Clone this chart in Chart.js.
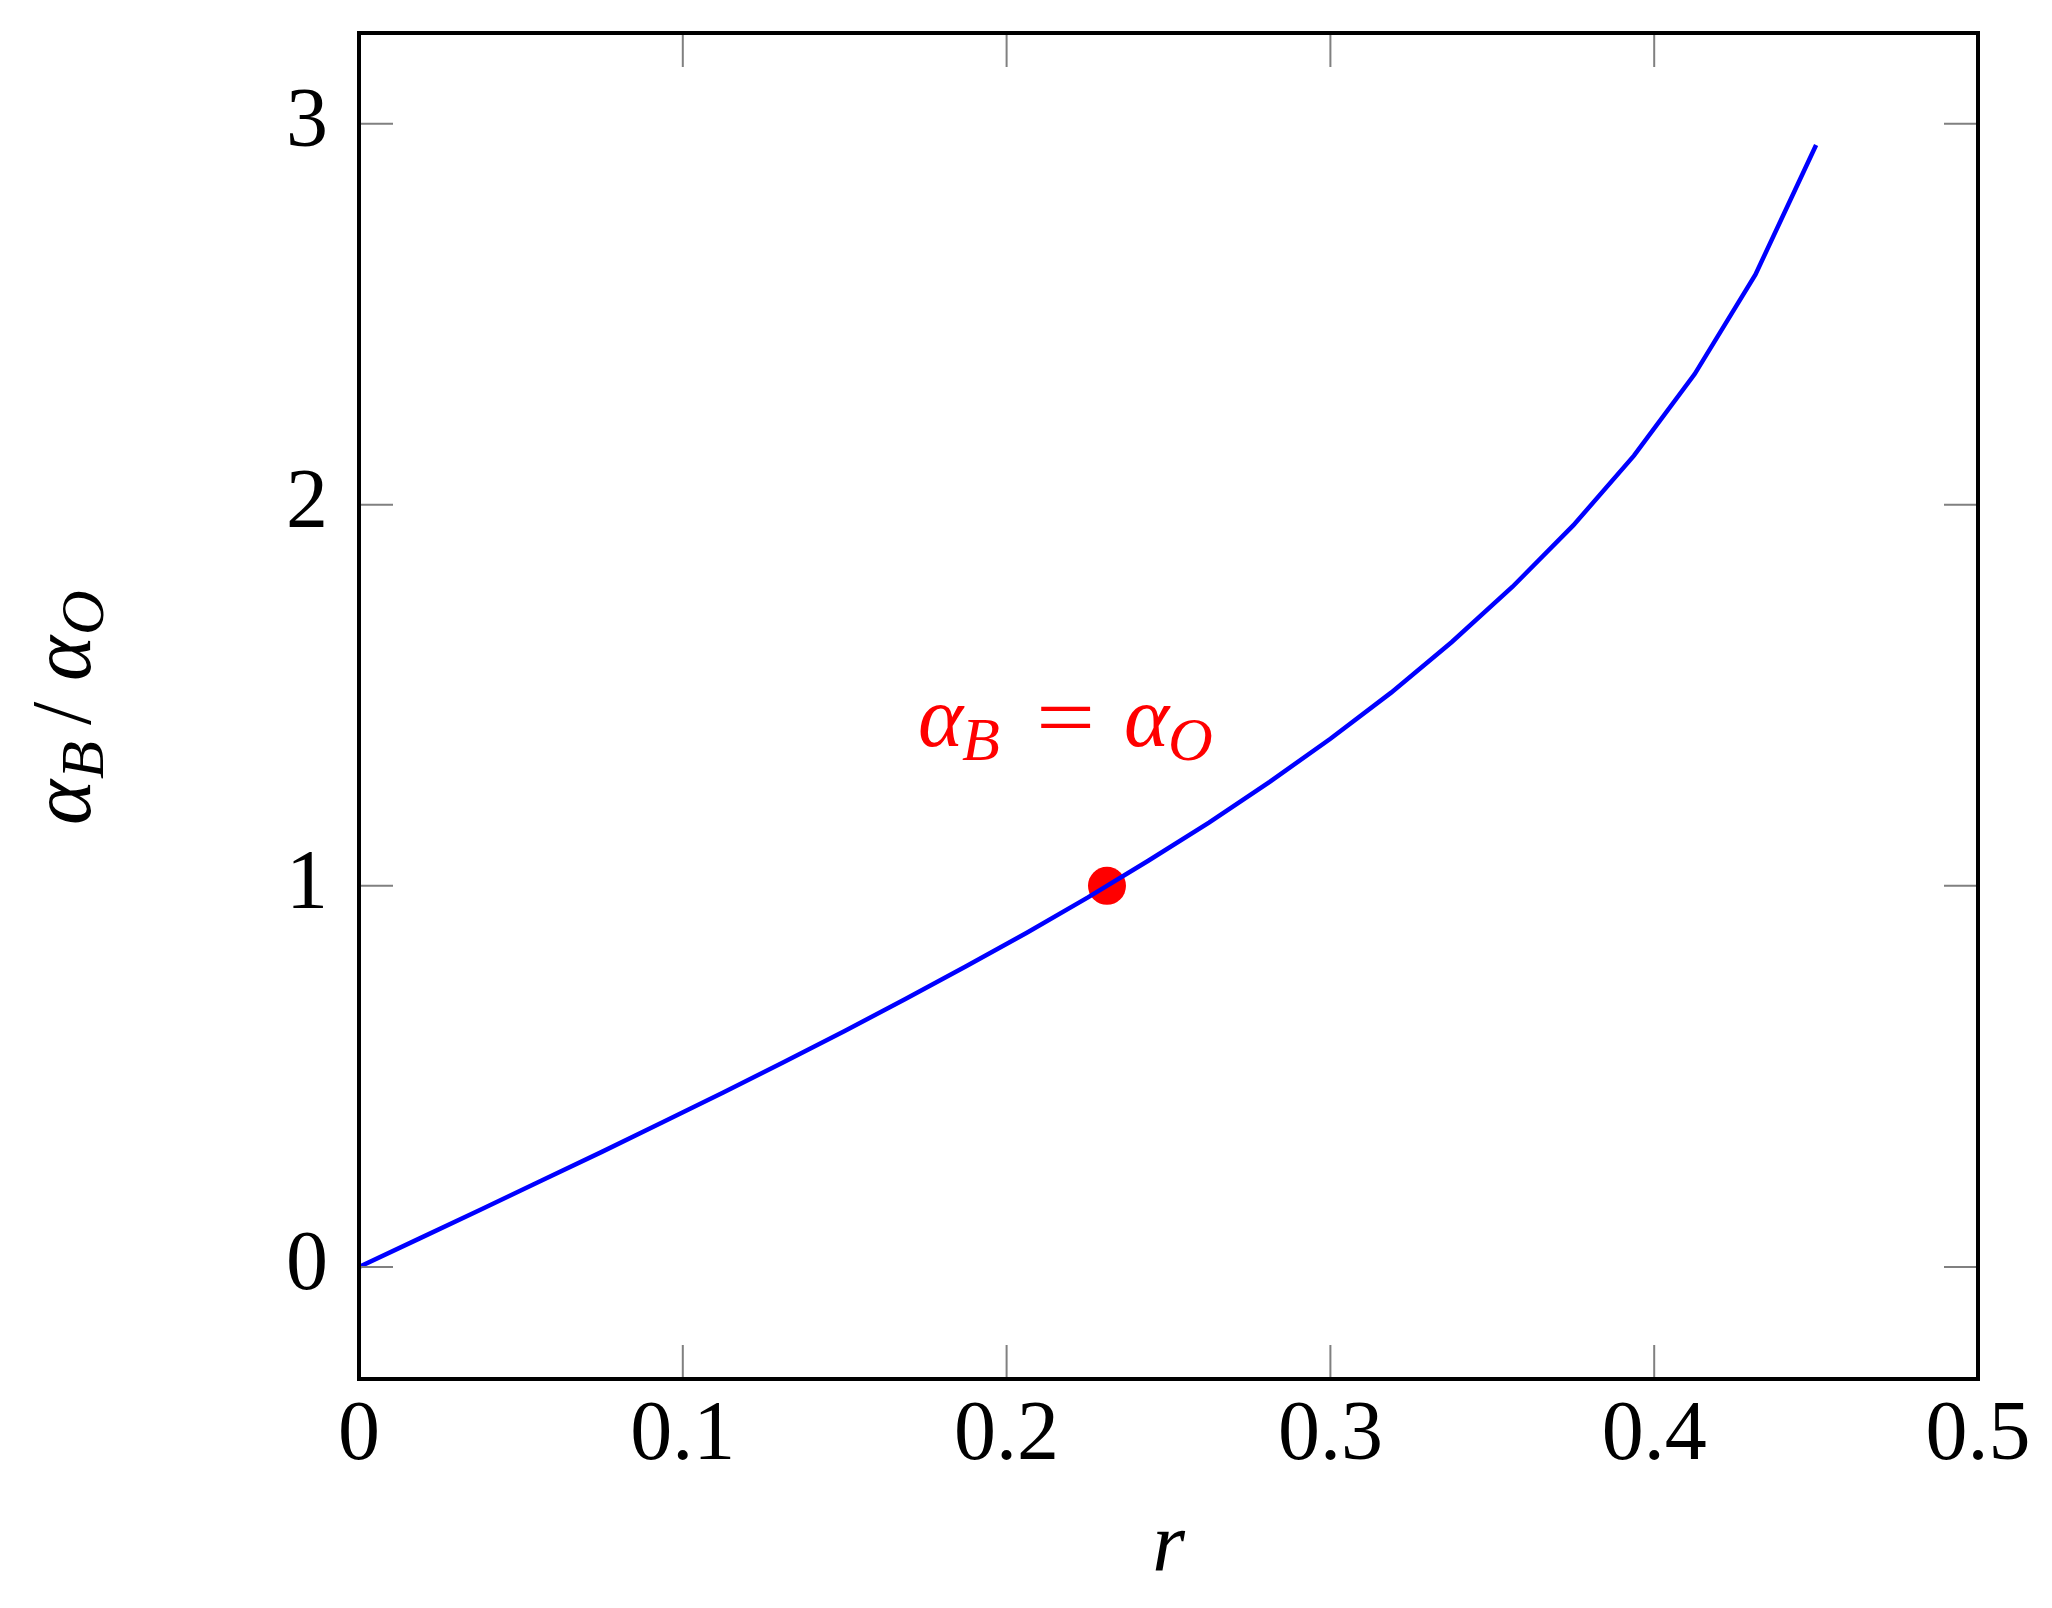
<!DOCTYPE html>
<html>
<head>
<meta charset="utf-8">
<script src="https://cdn.jsdelivr.net/npm/chart.js@4.4.1/dist/chart.umd.min.js"></script>
<style>
  html, body { margin: 0; padding: 0; background: #fff; }
  #wrap { width: 2052px; height: 1608px; position: relative; }
</style>
</head>
<body>
<div id="wrap"><canvas id="chart"></canvas></div>
<script>
// curve samples (r, alpha_B / alpha_O)
const rValues = [0, 0.01875, 0.0375, 0.05625, 0.075, 0.09375, 0.1125, 0.13125, 0.15, 0.16875,
  0.1875, 0.20625, 0.225, 0.24375, 0.2625, 0.28125, 0.3, 0.31875, 0.3375, 0.35625,
  0.375, 0.39375, 0.4125, 0.43125, 0.45];
const ratioValues = [0, 0.075, 0.150, 0.226, 0.302, 0.380, 0.458, 0.538, 0.619, 0.703,
  0.789, 0.877, 0.969, 1.066, 1.166, 1.273, 1.386, 1.507, 1.640, 1.785,
  1.946, 2.129, 2.343, 2.604, 2.944];
// the marked point where alpha_B = alpha_O
const markR = [0.231];
const markRatio = [1];
const xTicks = [0, 0.1, 0.2, 0.3, 0.4, 0.5];
const yTicks = [0, 1, 2, 3];

const FONT = '"Liberation Serif", "DejaVu Serif", serif';

// draws pieces of a small formula (main symbol + lowered subscript) at offsets
function drawMath(ctx, parts, x, y, rot) {
  ctx.save();
  ctx.translate(x, y);
  if (rot) ctx.rotate(rot);
  ctx.textAlign = 'left';
  ctx.textBaseline = 'alphabetic';
  parts.forEach(p => {
    ctx.font = (p.italic ? 'italic ' : '') + p.size + 'px ' + FONT;
    ctx.save();
    ctx.translate(p.dx, p.dy || 0);
    if (p.sx) ctx.scale(p.sx, 1);
    ctx.fillText(p.t, 0, 0);
    ctx.restore();
  });
  ctx.restore();
}

const framePlugin = {
  id: 'frame',
  afterDraw(chart) {
    const { ctx, chartArea: a, scales } = chart;
    const xs = scales.x, ys = scales.y;
    const len = 34;
    ctx.save();
    // inward ticks on all four sides
    ctx.strokeStyle = '#808080';
    ctx.lineWidth = 2;
    ctx.beginPath();
    xTicks.forEach(v => {
      const px = xs.getPixelForValue(v);
      ctx.moveTo(px, a.bottom); ctx.lineTo(px, a.bottom - len);
      ctx.moveTo(px, a.top); ctx.lineTo(px, a.top + len);
    });
    yTicks.forEach(v => {
      const py = ys.getPixelForValue(v);
      ctx.moveTo(a.left, py); ctx.lineTo(a.left + len, py);
      ctx.moveTo(a.right, py); ctx.lineTo(a.right - len, py);
    });
    ctx.stroke();
    // box
    ctx.strokeStyle = '#000';
    ctx.lineWidth = 4;
    ctx.strokeRect(a.left, a.top, a.right - a.left, a.bottom - a.top);

    // y axis title: alpha_B / alpha_O, rotated
    ctx.fillStyle = '#000';
    drawMath(ctx, [
      { t: 'α', size: 86, italic: true, dx: 0 },
      { t: 'B', size: 62, italic: true, dx: 46, dy: 13 },
      { t: '/', size: 84, dx: 100 },
      { t: 'α', size: 86, italic: true, dx: 144 },
      { t: 'O', size: 62, italic: true, dx: 190, dy: 13 }
    ], 90, 825, -Math.PI / 2);

    // red annotation
    ctx.fillStyle = '#ff0000';
    drawMath(ctx, [
      { t: 'α', size: 86, italic: true, dx: 0 },
      { t: 'B', size: 62, italic: true, dx: 44, dy: 14 },
      { t: '=', size: 84, dx: 118, sx: 1.25 },
      { t: 'α', size: 86, italic: true, dx: 206 },
      { t: 'O', size: 62, italic: true, dx: 250, dy: 14 }
    ], 918, 746);
    ctx.restore();
  }
};

new Chart(document.getElementById('chart'), {
  type: 'line',
  data: {
    datasets: [
      {
        data: rValues.map((r, i) => ({ x: r, y: ratioValues[i] })),
        borderColor: '#0000ff',
        borderWidth: 4.5,
        pointRadius: 0,
        tension: 0,
        fill: false
      },
      {
        data: markR.map((r, i) => ({ x: r, y: markRatio[i] })),
        showLine: false,
        pointRadius: 19,
        pointBackgroundColor: '#ff0000',
        pointBorderWidth: 0,
        borderColor: '#ff0000'
      }
    ]
  },
  options: {
    responsive: true,
    maintainAspectRatio: false,
    devicePixelRatio: 1,
    animation: false,
    layout: { padding: { left: 0, top: 33, right: 74, bottom: 0 } },
    plugins: { legend: { display: false }, tooltip: { enabled: false } },
    scales: {
      x: {
        type: 'linear',
        min: 0,
        max: 0.5,
        afterBuildTicks: s => { s.ticks = xTicks.map(v => ({ value: v })); },
        afterFit: s => { s.height = 229; s.paddingLeft = 0; s.paddingRight = 0; },
        grid: { display: false, drawTicks: false },
        border: { display: false },
        ticks: {
          color: '#000',
          padding: 8,
          maxRotation: 0,
          font: { family: FONT, size: 84 },
          callback: v => String(v)
        },
        title: {
          display: true,
          text: 'r',
          color: '#000',
          padding: { top: 0, bottom: 9 },
          font: { family: FONT, size: 84, style: 'italic' }
        }
      },
      y: {
        type: 'linear',
        min: -0.294,
        max: 3.238,
        afterBuildTicks: s => { s.ticks = yTicks.map(v => ({ value: v })); },
        afterFit: s => { s.width = 359; s.paddingTop = 0; s.paddingBottom = 0; },
        grid: { display: false, drawTicks: false },
        border: { display: false },
        ticks: {
          color: '#000',
          padding: 31,
          font: { family: FONT, size: 84 },
          callback: v => String(v)
        }
      }
    }
  },
  plugins: [framePlugin]
});
</script>
</body>
</html>
